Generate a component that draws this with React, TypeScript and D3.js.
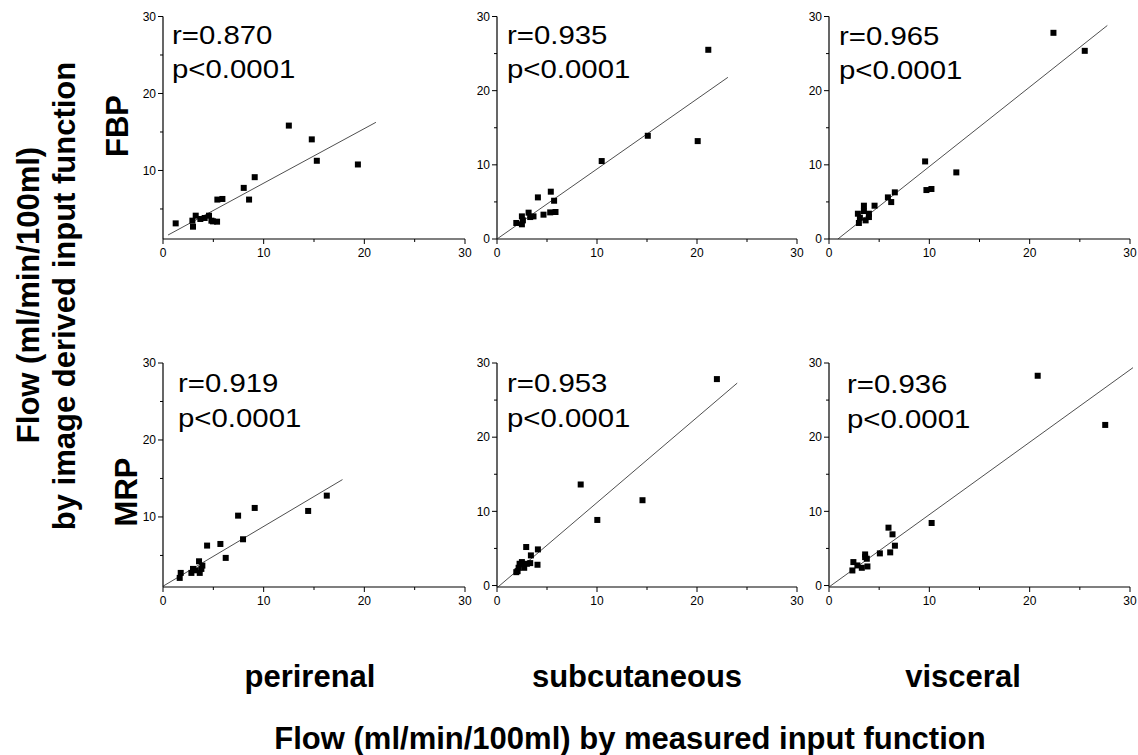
import React from 'react';
import * as d3 from 'd3';

// tissue columns and reconstruction rows
const tissues = ['perirenal', 'subcutaneous', 'visceral'];
const methods = ['FBP', 'MRP'];
const rValues = ['0.870', '0.935', '0.965', '0.919', '0.953', '0.936'];
const pText = 'p<0.0001';

// x = measured input function, y = image derived input function
const fbpPerirenal = [
  [1.26, 3.13], [2.98, 2.7], [2.92, 3.48], [3.25, 4.13], [3.71, 3.7], [4.14, 3.83],
  [4.57, 4.13], [4.81, 3.48], [5.37, 3.35], [4.97, 3.39], [5.4, 6.22], [5.9, 6.3],
  [8.02, 7.74], [8.55, 6.22], [9.11, 9.13], [12.5, 15.83], [14.78, 14.04],
  [15.28, 11.26], [19.36, 10.78],
];
const fbpSubcutaneous = [
  [1.93, 2.16], [2.49, 1.98], [2.49, 3.05], [2.59, 2.51], [3.16, 3.55], [3.32, 2.96],
  [3.65, 3.05], [4.09, 5.61], [4.65, 3.28], [5.32, 3.59], [5.38, 6.38], [5.71, 5.16],
  [5.85, 3.64], [10.47, 10.51], [15.08, 13.92], [20.07, 13.2], [21.13, 25.51],
];
const fbpVisceral = [
  [2.88, 3.41], [2.98, 2.16], [3.08, 2.87], [3.48, 4.49], [3.48, 3.77], [3.65, 2.51],
  [3.98, 2.96], [3.98, 3.41], [4.54, 4.49], [5.87, 5.61], [6.2, 4.98], [6.56, 6.29],
  [9.58, 10.46], [9.71, 6.6], [10.21, 6.74], [12.69, 8.98], [22.37, 27.8], [25.49, 25.37],
];
const mrpPerirenal = [
  [1.66, 2.08], [1.76, 2.73], [2.82, 2.73], [2.98, 3.25], [3.25, 3.07], [3.58, 4.24],
  [3.65, 2.73], [3.81, 3.25], [3.91, 3.68], [4.38, 6.28], [5.7, 6.49], [6.23, 4.68],
  [7.46, 10.17], [7.95, 7.1], [9.11, 11.17], [14.42, 10.78], [16.27, 12.77],
];
const mrpSubcutaneous = [
  [1.93, 1.8], [2.06, 1.94], [2.26, 2.93], [2.16, 2.39], [2.49, 3.16], [2.72, 2.39],
  [2.92, 5.19], [2.99, 2.93], [3.32, 3.02], [3.39, 4.06], [4.05, 2.8], [4.09, 4.87],
  [8.37, 13.62], [10.03, 8.84], [14.55, 11.5], [21.99, 27.83],
];
const mrpVisceral = [
  [2.33, 2.03], [2.43, 3.16], [2.83, 2.71], [3.27, 2.39], [3.6, 4.19], [3.6, 3.83],
  [3.83, 2.57], [3.77, 3.61], [5.07, 4.33], [5.93, 7.8], [6.1, 4.47], [6.33, 6.9],
  [6.57, 5.37], [10.23, 8.43], [20.8, 28.28], [27.53, 21.65],
];
const panelPoints = [fbpPerirenal, fbpSubcutaneous, fbpVisceral, mrpPerirenal, mrpSubcutaneous, mrpVisceral];

// regression lines: [slope, intercept, xStart, xEnd]
const fits = [
  [0.709, 1.26, 0.5, 21.15],
  [0.944, 0.0, 0.07, 23.09],
  [1.072, -0.95, 0.89, 27.74],
  [0.777, 1.0, 0.0, 17.83],
  [1.149, -0.31, 0.07, 24.02],
  [0.976, -0.2, 0.07, 30.3],
];

const xTicks = [0, 10, 20, 30];
const xMinor = [5, 15, 25];
const yTicks = [0, 10, 20, 30];
const yMinor = [5, 15, 25];

// layout
const W = 1138;
const H = 755;
const colX = [[163, 465], [497, 797], [829, 1130]];
const rowY = [[239, 16.5], [587, 363]];
const yMinByPanel = [1.1, 0, 0, 0.9, -0.2, -0.2];
const statDx = [9, 10, 10, 15, 10, 18];
const statDy = [27, 27, 28, 29, 29, 30];
const font = '"Liberation Sans", Arial, Helvetica, sans-serif';

function Panel({ idx }: { idx: number }) {
  const col = idx % 3;
  const row = Math.floor(idx / 3);
  const x = d3.scaleLinear().domain([0, 30]).range(colX[col]);
  const y = d3.scaleLinear().domain([yMinByPanel[idx], 30]).range(rowY[row]);
  const [x0, x1] = x.range();
  const [yb, yt] = y.range();
  const [slope, icpt, fx0, fx1] = fits[idx];
  const line = d3.line<number>().x(d => x(d)).y(d => y(slope * d + icpt));
  const s = 6;

  return (
    <g>
      {/* axes */}
      <line x1={x0} x2={x1} y1={yb} y2={yb} stroke="#000" strokeWidth={1.2} />
      <line x1={x0} x2={x0} y1={yb} y2={yt} stroke="#000" strokeWidth={1.2} />
      {xTicks.map(t => (
        <g key={'xt' + t}>
          <line x1={x(t)} x2={x(t)} y1={yb} y2={yb + 5} stroke="#000" />
          <text x={x(t)} y={yb + 18} textAnchor="middle" fontSize={12} fontFamily={font}>{t}</text>
        </g>
      ))}
      {xMinor.map(t => (
        <line key={'xm' + t} x1={x(t)} x2={x(t)} y1={yb} y2={yb + 3} stroke="#000" />
      ))}
      {yTicks.filter(t => t >= yMinByPanel[idx]).map(t => (
        <g key={'yt' + t}>
          <line x1={x0 - 5} x2={x0} y1={y(t)} y2={y(t)} stroke="#000" />
          <text x={x0 - 7} y={y(t)} dy="0.35em" textAnchor="end" fontSize={12} fontFamily={font}>{t}</text>
        </g>
      ))}
      {yMinor.map(t => (
        <line key={'ym' + t} x1={x0 - 3} x2={x0} y1={y(t)} y2={y(t)} stroke="#000" />
      ))}
      {/* fit line */}
      <path d={line([fx0, fx1]) || ''} fill="none" stroke="#222" strokeWidth={0.8} />
      {/* points */}
      {panelPoints[idx].map((p, i) => (
        <rect key={i} x={x(p[0]) - s / 2} y={y(p[1]) - s / 2} width={s} height={s} fill="#000" />
      ))}
      {/* stats */}
      <g transform={`translate(${x0 + statDx[idx]},${yt + statDy[idx]}) scale(1.13,1)`} fontFamily={font} fontSize={26}>
        <text x={0} y={0}>r={rValues[idx]}</text>
        <text x={0} y={35}>{pText}</text>
      </g>
    </g>
  );
}

export default function App() {
  const subX = [310, 637, 963];
  const methodX = [128, 137];
  const methodY = [126, 492];
  return (
    <svg width={W} height={H} style={{ position: 'absolute', left: 0, top: 0, background: '#fff' }}>
      {[0, 1, 2, 3, 4, 5].map(i => <Panel key={i} idx={i} />)}
      {methods.map((m, i) => (
        <text key={m} transform={`translate(${methodX[i]},${methodY[i]}) rotate(-90)`} textAnchor="middle"
          fontSize={31} fontWeight="bold" fontFamily={font}>{m}</text>
      ))}
      <text transform="translate(39,295) rotate(-90)" textAnchor="middle" fontSize={31} fontWeight="bold" fontFamily={font}>
        Flow (ml/min/100ml)
      </text>
      <text transform="translate(75,296) rotate(-90)" textAnchor="middle" fontSize={31} fontWeight="bold" fontFamily={font}>
        by image derived input function
      </text>
      {tissues.map((t, i) => (
        <text key={t} x={subX[i]} y={687} textAnchor="middle" fontSize={31} fontWeight="bold" fontFamily={font}>{t}</text>
      ))}
      <text x={630} y={749} textAnchor="middle" fontSize={31} fontWeight="bold" fontFamily={font}>
        Flow (ml/min/100ml) by measured input function
      </text>
    </svg>
  );
}
